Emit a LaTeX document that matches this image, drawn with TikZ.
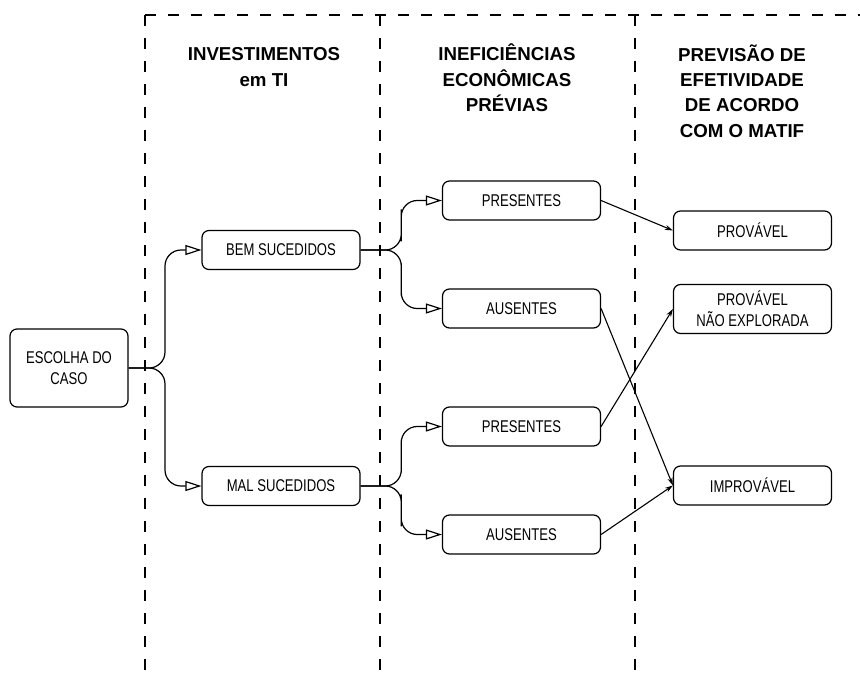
\documentclass[tikz,border=0pt]{standalone}
\usepackage{fontspec}
\setmainfont{Liberation Sans}
\newfontfamily\boxfont{Liberation Sans}[FakeStretch=0.77]
\usepackage{tikz}
\usetikzlibrary{
  arrows.meta,
  calc,
  positioning}

\begin{document}
\begin{tikzpicture}[x=1pt,y=-1pt,
    box/.style={draw,line width=1.2pt,rounded corners=7pt,minimum width=158pt,
      minimum height=39pt,inner sep=0pt,align=center,
      font=\boxfont\fontsize{17}{21}\selectfont},
    head/.style={anchor=base,align=center,inner sep=0pt,
      font=\bfseries\fontsize{18.7}{25.3}\selectfont},
    sep/.style={line width=1.6pt,dash pattern=on 11pt off 12pt},
    branch/.style={line width=1.2pt,rounded corners=16pt,
      -{Triangle[open,length=16pt,width=10pt]}},
    link/.style={line width=1.1pt,-{Stealth[length=8pt,width=5pt]}}]
            \useasboundingbox (0,0) rectangle (860,678);
            \draw[sep] (145,15) -- (860,15);
            \draw[sep] (145,15) -- (145,678);
            \draw[sep] (380,15) -- (380,678);
            \draw[sep] (635,15) -- (635,678);

            \node[head] (invest) at (264,86) {INVESTIMENTOS\\em TI};
            \node[head] (inef) at (507,111.5) {INEFICIÊNCIAS\\ECONÔMICAS\\PRÉVIAS};
            \node[head] (prev) at (742,137) {PREVISÃO DE\\EFETIVIDADE\\DE ACORDO\\COM O MATIF};

            \node[box,minimum width=118pt,minimum height=78pt] (escolha) at (69,368) {ESCOLHA DO\\CASO};
            \node[box] (bem) at (281,250) {BEM SUCEDIDOS};
            \node[box] (mal) at (281,486) {MAL SUCEDIDOS};
            \node[box] (pres1) at (521.5,200.5) {PRESENTES};
            \node[box] (aus1) at (521.5,308.5) {AUSENTES};
            \node[box] (pres2) at (521.5,426.5) {PRESENTES};
            \node[box] (aus2) at (521.5,534.5) {AUSENTES};
            \node[box] (prov) at (752.5,230.5) {PROVÁVEL};
            \node[box,minimum height=49pt] (provne) at (752.5,309) {PROVÁVEL\\NÃO EXPLORADA};
            \node[box] (improv) at (752.5,485.5) {IMPROVÁVEL};

            \draw[branch] (escolha.east) -| ($(escolha.east)!.5!(bem.west)$) |- (bem.west);
            \draw[branch] (escolha.east) -| ($(escolha.east)!.5!(mal.west)$) |- (mal.west);
            \draw[branch] (bem.east) -| ($(bem.east)!.5!(pres1.west)$) |- (pres1.west);
            \draw[branch] (bem.east) -| ($(bem.east)!.5!(aus1.west)$) |- (aus1.west);
            \draw[branch] (mal.east) -| ($(mal.east)!.5!(pres2.west)$) |- (pres2.west);
            \draw[branch] (mal.east) -| ($(mal.east)!.5!(aus2.west)$) |- (aus2.west);

            \draw[link] (pres1.east) -- (prov.west);
            \draw[link] (aus1.east) -- (improv.west);
            \draw[link] (pres2.east) -- (provne.west);
            \draw[link] (aus2.east) -- (improv.west);
        \end{tikzpicture}
\end{document}
